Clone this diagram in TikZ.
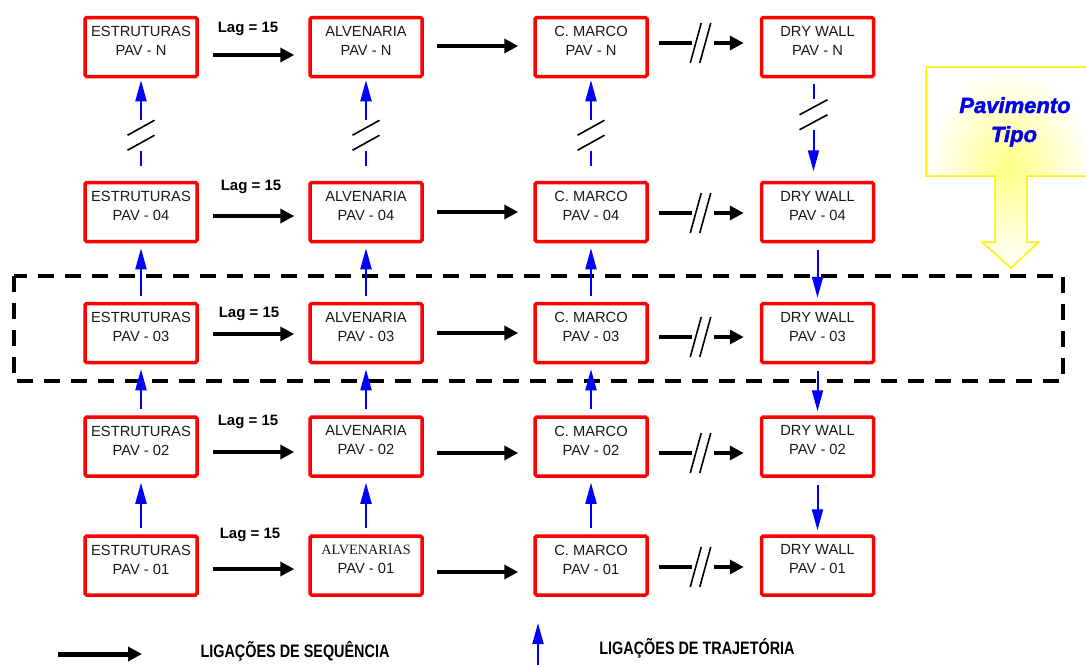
\documentclass[tikz,border=0pt]{standalone}
\usepackage{fontspec}
\setmainfont{Liberation Sans}
\newfontfamily\serifbox{Liberation Serif}
\newfontfamily\legendfont[FakeStretch=0.8]{Liberation Sans Bold}
\newfontfamily\pavfont[FakeBold=2]{Liberation Sans Bold Italic}
\usetikzlibrary{arrows.meta,calc}

\tikzset{
  box/.style={draw=red, line width=3.5pt, rounded corners=1.5pt,
    minimum width=112pt, minimum height=59pt, inner sep=0pt},
  txt/.style={font=\fontsize{14.7}{19}\selectfont, text=black!90, align=center, inner sep=0pt},
  lag/.style={font=\fontsize{15}{18}\selectfont\bfseries, inner sep=0pt},
  seqline/.style={black, line width=4pt},
  seq/.style={seqline, -{Triangle[length=14pt,width=14pt]}},
  trajline/.style={blue, line width=2pt},
  traj/.style={trajline, -{Triangle[length=21pt,width=11pt]}},
  brk/.style={black, line width=1.6pt},
  legend/.style={font=\fontsize{18}{20}\selectfont\legendfont, inner sep=0pt},
  pav/.style={font=\fontsize{22}{29}\selectfont\pavfont, text=blue!95!black, inner sep=0pt},
}

\begin{document}
\begin{tikzpicture}[x=1pt,y=-1pt]
\useasboundingbox (0,0) rectangle (1086,664);

% "Pavimento Tipo" callout with its soft yellow glow
\path[shade, inner color=yellow!48, outer color=white]
  (926,67) -- (1092,67) -- (1092,176) -- (1027,176) -- (1027,242) -- (1039,242)
  -- (1011,268) -- (982,242) -- (995,242) -- (995,176) -- (926,176) -- cycle;
\draw[yellow, line width=1.5pt]
  (926,67) -- (1092,67) -- (1092,176) -- (1027,176) -- (1027,242) -- (1039,242)
  -- (1011,268) -- (982,242) -- (995,242) -- (995,176) -- (926,176) -- cycle;
\node[pav, anchor=base] (pav1) at (1015,113) {Pavimento};
\node[pav, anchor=base] (pav2) at (1014,142) {Tipo};

% dashed frame around the typical floor
\draw[black, line width=4pt, dash pattern=on 16pt off 11pt] (14,276) rectangle (1063,381);

% activity boxes
\foreach \r/\y/\lab in {N/47/N, 4/212/04, 3/333/03, 2/446.5/02, 1/565.5/01} {
  \node[box] (e\r) at (141,\y) {};
  \node[box] (a\r) at (366,\y) {};
  \node[box] (c\r) at (591,\y) {};
  \node[box] (d\r) at (817.5,\y) {};
  \node[txt] (e\r t) at ([yshift=6pt]e\r.center) {ESTRUTURAS\\PAV - \lab};
  \node[txt] (c\r t) at ([yshift=6pt]c\r.center) {C. MARCO\\PAV - \lab};
  \node[txt] (d\r t) at ([yshift=6pt]d\r.center) {DRY WALL\\PAV - \lab};
}
\foreach \r/\lab in {N/N, 4/04, 3/03, 2/02} {
  \node[txt] (a\r t) at ([yshift=6pt]a\r.center) {ALVENARIA\\PAV - \lab};
}
\node[txt] (a1t) at ([yshift=6pt]a1.center)
  {{\serifbox\fontsize{14.2}{19}\selectfont ALVENARIAS}\\PAV - 01};

% lag labels
\foreach \r/\x/\y in {N/248/28.5, 4/251/186.5, 3/249/313.5, 2/248/421.5, 1/250/534.5} {
  \node[lag] (lag\r) at (\x,\y) {Lag = 15};
}

% sequence links along each floor
\foreach \r/\sa/\sb/\sc in {N/-8/1/4, 4/-4/0/-1, 3/-1/0/-4, 2/-5.5/-6.5/-6.5, 1/-3.5/-6.5/-1.5} {
  \draw[seq, shorten <=14pt, shorten >=14pt] ([yshift=\sa pt]e\r.east) -- ([yshift=\sa pt]a\r.west);
  \draw[seq, shorten <=13pt, shorten >=15pt] ([yshift=\sb pt]a\r.east) -- ([yshift=\sb pt]c\r.west);
  \coordinate (p\r) at ([yshift=\sc pt]c\r.east);
  \coordinate (q\r) at ([yshift=\sc pt]d\r.west);
  \draw[seqline] ($(p\r)+(10,0)$) -- ($(p\r)+(43,0)$);
  \draw[brk] ($(p\r)+(47,0)$) +(-5.5,20) -- +(5.5,-20);
  \draw[brk] ($(p\r)+(56.5,0)$) +(-5.5,20) -- +(5.5,-20);
  \draw[seq] ($(p\r)+(65,0)$) -- ($(q\r)+(-16,0)$);
}

% trajectory links between floors
\foreach \lo/\hi in {1/2, 2/3, 3/4} {
  \draw[traj, shorten <=6pt, shorten >=5pt] (e\lo.north) -- (e\hi.south);
  \draw[traj, shorten <=6pt, shorten >=5pt] (a\lo.north) -- (a\hi.south);
  \draw[traj, shorten <=6pt, shorten >=5pt] (c\lo.north) -- (c\hi.south);
  \draw[traj, shorten <=7pt, shorten >=4pt] (d\hi.south) -- (d\lo.north);
}

% interrupted trajectory links up to floor N
\foreach \col in {e, a, c} {
  \coordinate (u\col) at (\col4.north);
  \draw[trajline] ($(u\col)+(0,-15)$) -- ($(u\col)+(0,-30)$);
  \draw[brk] ($(u\col)+(0,-38)$) +(-13.5,7.5) -- +(13.5,-7.5);
  \draw[brk] ($(u\col)+(0,-53)$) +(-13.5,7.5) -- +(13.5,-7.5);
  \draw[traj, shorten >=2pt] ($(u\col)+(0,-61)$) -- (\col N.south);
}
\coordinate (vd) at ([xshift=-4pt]dN.south);
\draw[trajline] ($(vd)+(0,5.5)$) -- ($(vd)+(0,20.5)$);
\draw[brk] ($(vd)+(0,29)$) +(-14,7.5) -- +(14,-7.5);
\draw[brk] ($(vd)+(0,44)$) +(-14,7.5) -- +(14,-7.5);
\draw[traj, shorten >=9.5pt] ($(vd)+(0,51.5)$) -- ([xshift=-4pt]d4.north);

% legend
\coordinate (sq0) at (58,654);
\coordinate (sq1) at (142,654);
\draw[seq, line width=5pt] (sq0) -- (sq1);
\node[legend] (legseq) at (295,651) {LIGAÇÕES DE SEQUÊNCIA};
\coordinate (tr0) at (538,666);
\coordinate (tr1) at (538,623);
\draw[traj] (tr0) -- (tr1);
\node[legend] (legtraj) at (697,648) {LIGAÇÕES DE TRAJETÓRIA};
\end{tikzpicture}
\end{document}
